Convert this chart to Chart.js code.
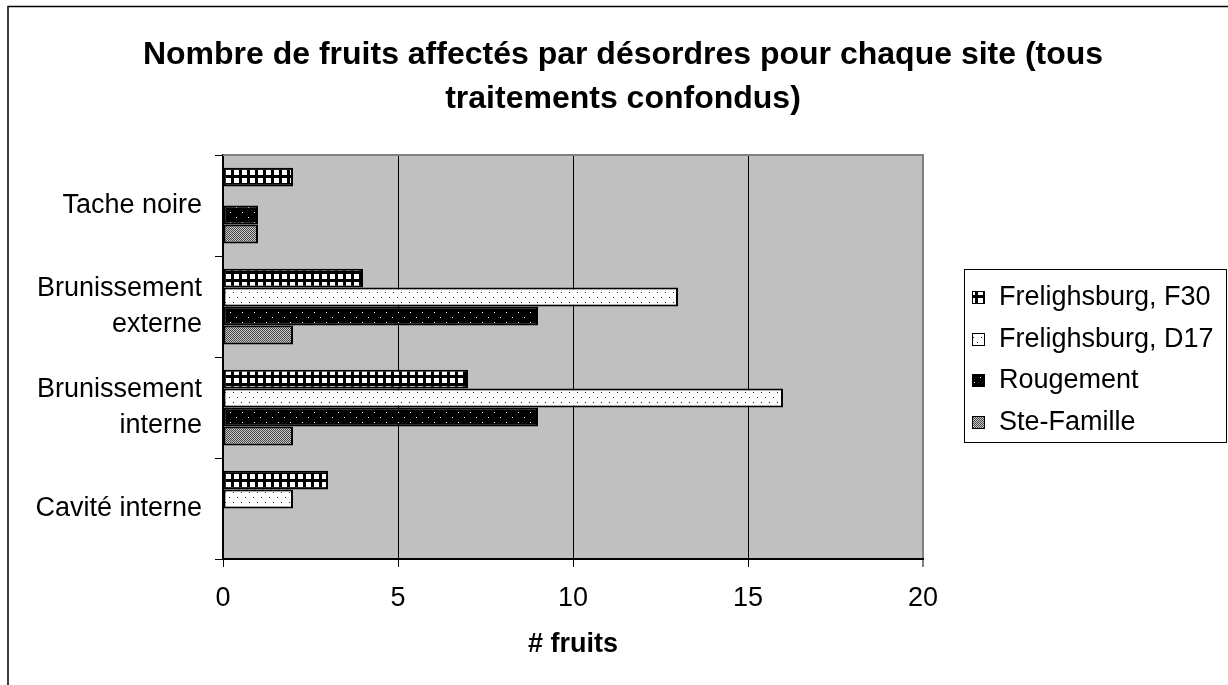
<!DOCTYPE html>
<html>
<head>
<meta charset="utf-8">
<script src="https://cdn.jsdelivr.net/npm/chart.js@4"></script>
<style>
  body { margin: 0; background: #fff; }
  canvas { display: block; }
</style>
</head>
<body>
<canvas id="chart" width="1228" height="685"></canvas>
<script>
const categories = ['Tache noire', ['Brunissement', 'externe'], ['Brunissement', 'interne'], 'Cavité interne'];
const seriesNames = ['Frelighsburg, F30', 'Frelighsburg, D17', 'Rougement', 'Ste-Famille'];
const f30 = [2, 4, 7, 3];
const d17 = [0, 13, 16, 2];
const rougement = [1, 9, 9, 0];
const steFamille = [1, 2, 2, 0];
const xTicks = [0, 5, 10, 15, 20];
const titleLines = ['Nombre de fruits affectés par désordres pour chaque site (tous', 'traitements confondus)'];
const xTitle = '# fruits';

const FONT = "'Liberation Sans', Arial, sans-serif";
const canvas = document.getElementById('chart');
const ctx = canvas.getContext('2d');

// small tiles used as hatch fills, like the old Excel patterns
function makePattern(w, h, paint) {
    const c = document.createElement('canvas');
    c.width = w;
    c.height = h;
    paint(c.getContext('2d'));
    return ctx.createPattern(c, 'repeat');
}

const gridFill = makePattern(8, 8, g => {
    g.fillStyle = '#000';
    g.fillRect(0, 0, 8, 8);
    g.fillStyle = '#fff';
    g.fillRect(2, 2, 5, 5);
});
const dotFill = makePattern(8, 10, g => {
    g.fillStyle = '#fff';
    g.fillRect(0, 0, 8, 10);
    g.fillStyle = '#222';
    g.fillRect(1, 2, 1, 1);
    g.fillRect(5, 7, 1, 1);
});
const blackDotFill = makePattern(12, 10, g => {
    g.fillStyle = '#000';
    g.fillRect(0, 0, 12, 10);
    g.fillStyle = '#fff';
    g.fillRect(2, 2, 1, 1);
    g.fillRect(8, 7, 1, 1);
});
const checkerFill = makePattern(2, 2, g => {
    g.fillStyle = '#c8c8c8';
    g.fillRect(0, 0, 2, 2);
    g.fillStyle = '#484848';
    g.fillRect(0, 0, 1, 1);
    g.fillRect(1, 1, 1, 1);
});

const frame = {
    id: 'frame',
    beforeDraw(chart) {
        const c = chart.ctx;
        const a = chart.chartArea;
        c.save();
        c.fillStyle = '#fff';
        c.fillRect(0, 0, chart.width, chart.height);
        c.strokeStyle = '#000';
        c.lineWidth = 1.5;
        c.strokeRect(8, 6.5, chart.width + 20, chart.height + 20);
        c.fillStyle = '#c0c0c0';
        c.fillRect(a.left, a.top, a.right - a.left, a.bottom - a.top);
        c.restore();
    },
    afterDraw(chart) {
        const c = chart.ctx;
        const a = chart.chartArea;
        c.save();
        c.strokeStyle = '#808080';
        c.lineWidth = 2;
        c.beginPath();
        c.moveTo(a.left, a.top);
        c.lineTo(a.right + 1, a.top);
        c.stroke();
        c.restore();
    }
};

// legend as its own layout box on the right
const sideLegend = {
    id: 'sideLegend',
    beforeInit(chart) {
        const box = {
            position: 'right',
            weight: 100,
            fullSize: false,
            options: {},
            left: 0, top: 0, right: 0, bottom: 0, width: 0, height: 0,
            isHorizontal() { return false; },
            update(maxWidth, maxHeight) {
                this.width = 305;
                this.height = maxHeight;
            },
            draw() {
                const c = chart.ctx;
                const x0 = this.left + 41, y0 = 269, w = 262, h = 173;
                c.save();
                c.fillStyle = '#fff';
                c.fillRect(x0, y0, w, h);
                c.strokeStyle = '#000';
                c.lineWidth = 1;
                c.strokeRect(x0 + 0.5, y0 + 0.5, w, h);
                c.font = '27px ' + FONT;
                c.textBaseline = 'middle';
                c.textAlign = 'left';
                chart.data.datasets.forEach((ds, i) => {
                    const cy = Math.round(y0 + 28 + i * 41.7);
                    c.fillStyle = ds.backgroundColor;
                    c.fillRect(x0 + 8, cy - 6, 13, 13);
                    c.strokeStyle = '#000';
                    c.strokeRect(x0 + 8.5, cy - 5.5, 12, 12);
                    c.fillStyle = '#000';
                    c.fillText(ds.label, x0 + 35, cy + 1);
                });
                c.restore();
            }
        };
        Chart.layouts.addBox(chart, box);
    }
};

new Chart(ctx, {
    type: 'bar',
    data: {
        labels: categories,
        datasets: [
            { label: seriesNames[0], data: f30, backgroundColor: gridFill },
            { label: seriesNames[1], data: d17, backgroundColor: dotFill },
            { label: seriesNames[2], data: rougement, backgroundColor: blackDotFill },
            { label: seriesNames[3], data: steFamille, backgroundColor: checkerFill }
        ]
    },
    options: {
        indexAxis: 'y',
        responsive: false,
        animation: false,
        devicePixelRatio: 1,
        layout: { padding: { left: 18, right: 0, top: 0, bottom: 0 } },
        datasets: {
            bar: {
                categoryPercentage: 0.75,
                barPercentage: 1,
                borderColor: '#000',
                borderWidth: 2,
                borderSkipped: false
            }
        },
        scales: {
            x: {
                min: 0,
                max: 20,
                afterFit(s) { s.height = 126; },
                afterBuildTicks(s) { s.ticks = xTicks.map(v => ({ value: v })); },
                ticks: { font: { family: FONT, size: 27 }, color: '#000', padding: 15 },
                grid: {
                    color: c => (c.tick && c.tick.value === 20) ? '#808080' : '#000',
                    lineWidth: c => (c.tick && c.tick.value === 20) ? 2 : 1,
                    tickLength: 8
                },
                border: { color: '#000', width: 2 },
                title: {
                    display: true,
                    text: xTitle,
                    color: '#000',
                    font: { family: FONT, size: 27, weight: 'bold' },
                    padding: { top: 0, bottom: 24 }
                }
            },
            y: {
                afterFit(s) { s.width = 205; },
                ticks: { font: { family: FONT, size: 27, lineHeight: 1.3 }, color: '#000', padding: 13 },
                grid: { drawOnChartArea: false, color: '#000', tickLength: 8, offset: true },
                border: { color: '#000', width: 2 }
            }
        },
        plugins: {
            legend: { display: false },
            tooltip: { enabled: false },
            title: {
                display: true,
                text: titleLines,
                color: '#000',
                font: { family: FONT, size: 32, weight: 'bold', lineHeight: 1.375 },
                padding: { top: 33, bottom: 34 }
            }
        }
    },
    plugins: [frame, sideLegend]
});
</script>
</body>
</html>
